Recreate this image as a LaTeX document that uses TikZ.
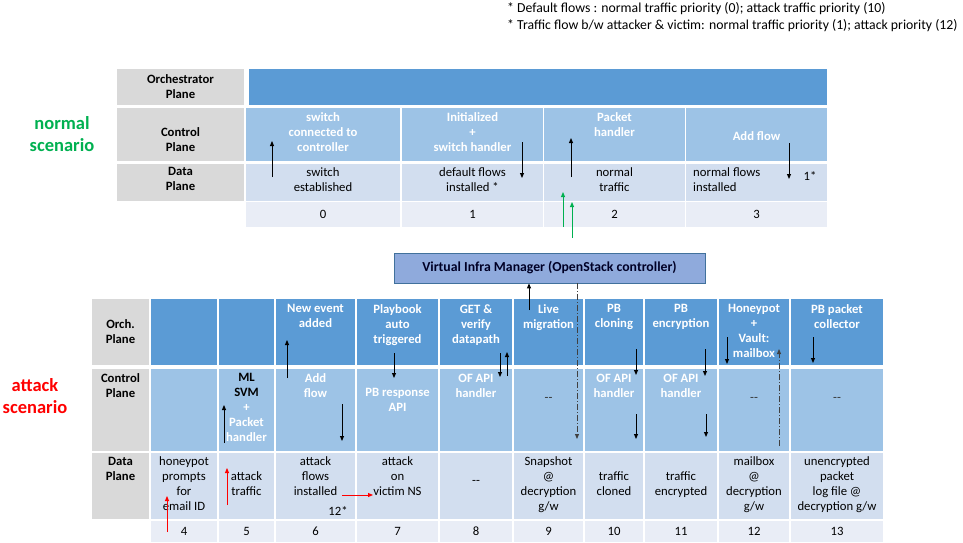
\documentclass[tikz,border=0pt]{standalone}
\usepackage{fontspec}
\setmainfont{Carlito}
\usetikzlibrary{positioning}
\usetikzlibrary{arrows.meta}

\definecolor{orchblue}{HTML}{5B9BD5}
\definecolor{ctrlblue}{HTML}{9DC3E6}
\definecolor{datablue}{HTML}{D2DEEF}
\definecolor{numblue}{HTML}{E9EDF6}
\definecolor{labelgray}{HTML}{D9D9D9}
\definecolor{vimblue}{HTML}{8FAADC}
\definecolor{vimedge}{HTML}{41719C}
\definecolor{okgreen}{HTML}{00B050}

\tikzset{
  cell/.style={inner sep=0pt, outer sep=0pt, anchor=north west},
  txt/.style={font=\fontsize{12.7}{15}\selectfont, align=center, inner sep=0pt,
    execute at begin node={\rule{0pt}{12.5pt}}},
  hd/.style={txt, font=\bfseries\fontsize{12.7}{15}\selectfont, text=white},
  lbl/.style={txt, font=\bfseries\fontsize{12.7}{15}\selectfont},
  dashtxt/.style={txt, text=black!80},
  scen/.style={font=\bfseries\fontsize{18.5}{22.5}\selectfont, align=center},
  arr/.style={-{Triangle[length=5pt,width=4pt]}, line width=0.9pt},
  redarr/.style={arr, red},
  greenarr/.style={arr, okgreen},
  dasharr/.style={arr, black!75, dash pattern=on 6pt off 2pt on 1pt off 2pt}
}

\begin{document}
\begin{tikzpicture}[x=1pt,y=-1pt]
    \useasboundingbox (0,0) rectangle (963,543);

    % Notes
    \node[txt, font=\fontsize{13.75}{17}\selectfont, align=left, anchor=north west] (notes) at (507,2.5)
      {* Default flows : normal traffic priority (0); attack traffic priority (10)\\
       * Traffic flow b/w attacker \& victim: normal traffic priority (1); attack priority (12)};

    % Normal scenario: plane labels
    \node[cell, fill=labelgray, minimum width=127pt, minimum height=36pt] (torch) at (117,69) {};
    \node[cell, fill=labelgray, minimum width=127pt, minimum height=53pt] (tctrl) at (117,108) {};
    \node[cell, fill=labelgray, minimum width=127pt, minimum height=37pt] (tdata) at (117,164) {};
    \node[cell, fill=orchblue, minimum width=578pt, minimum height=36pt] (tobar) at (249,69) {};
    \node[lbl, below=5.5pt of torch.north] (torchtxt) {Orchestrator\\Plane};
    \node[lbl, below=19.5pt of tctrl.north] (tctrltxt) {Control\\Plane};
    \node[lbl, below=3.5pt of tdata.north] (tdatatxt) {Data\\Plane};

    % Normal scenario: steps 0-3
    \foreach \n/\a/\b in {0/246/400,1/402/543,2/544/685,3/686/827} {
        \node[cell, fill=ctrlblue, minimum width={(\b-\a)*1pt}, minimum height=53pt] (tc\n) at (\a,108) {};
        \node[cell, fill=datablue, minimum width={(\b-\a)*1pt}, minimum height=37pt] (td\n) at (\a,164) {};
        \node[cell, fill=numblue, minimum width={(\b-\a)*1pt}, minimum height=25pt] (tn\n) at (\a,202) {};
        \node[txt, below=3.5pt of tn\n.north] (tnum\n) {\n};
    }
    \node[hd, below=4.5pt of tc0.north] (tc0txt) {switch\\connected to\\controller};
    \node[hd, below=4.5pt of tc1.north] (tc1txt) {Initialized\\+\\switch handler};
    \node[hd, below=4.5pt of tc2.north] (tc2txt) {Packet\\handler};
    \node[hd, below=19.5pt of tc3.north] (tc3txt) {Add flow};
    \node[txt, below=3.5pt of td0.north] (td0txt) {switch\\established};
    \node[txt, below=3.5pt of td1.north] (td1txt) {default flows\\installed *};
    \node[txt, below=3.5pt of td2.north] (td2txt) {normal\\traffic};
    \node[txt, align=left, below right=3.5pt and 7pt of td3.north west] (td3txt) {normal flows\\installed};
    \node[txt, anchor=north] (onestar) at (810,167.5) {1*};

    \node[scen, text=okgreen] (normalsc) at (62,134) {normal\\scenario};

    % Normal scenario arrows
    \draw[arr] (272,177) -- (272,141);
    \draw[arr] (522,142) -- (522,178);
    \draw[arr] (571,177) -- (571,138);
    \draw[arr] (789,143) -- (789,179);
    \draw[greenarr] (563,227) -- (563,192);
    \draw[greenarr] (572,238) -- (572,202);

    % Virtual infra manager
    \node[draw=vimedge, fill=vimblue, line width=0.8pt, minimum width=311pt, minimum height=30pt,
      font=\bfseries\fontsize{13.75}{16}\selectfont, text=black!85!blue] (vim) at (549.5,268)
      {Virtual Infra Manager (OpenStack controller)};

    % Attack scenario: plane labels
    \node[cell, fill=labelgray, minimum width=57pt, minimum height=66pt] (borch) at (92,299) {};
    \node[cell, fill=labelgray, minimum width=57pt, minimum height=82pt] (bctrl) at (92,369) {};
    \node[cell, fill=labelgray, minimum width=57pt, minimum height=66pt] (bdata) at (92,453) {};
    \node[lbl, below=20.5pt of borch.north] (borchtxt) {Orch.\\Plane};
    \node[lbl, below=4.5pt of bctrl.north] (bctrltxt) {Control\\Plane};
    \node[lbl, below=4.5pt of bdata.north] (bdatatxt) {Data\\Plane};

    % Attack scenario: steps 4-13
    \foreach \n/\a/\b in {4/151/217,5/219/274,6/276/355,7/357/438,8/440/512,9/514/583,10/585/643,11/645/717,12/719/789,13/791/883} {
        \node[cell, fill=orchblue, minimum width={(\b-\a)*1pt}, minimum height=66pt] (bo\n) at (\a,299) {};
        \node[cell, fill=ctrlblue, minimum width={(\b-\a)*1pt}, minimum height=82pt] (bc\n) at (\a,369) {};
        \node[cell, fill=datablue, minimum width={(\b-\a)*1pt}, minimum height=66pt] (bd\n) at (\a,453) {};
        \node[cell, fill=numblue, minimum width={(\b-\a)*1pt}, minimum height=21pt] (bn\n) at (\a,521) {};
        \node[txt, below=1.5pt of bn\n.north] (bnum\n) {\n};
    }

    % Orchestrator row
    \node[hd, below=5.5pt of bo6.north] (bo6txt) {New event\\added};
    \node[hd, below=5.5pt of bo7.north] (bo7txt) {Playbook\\auto\\triggered};
    \node[hd, below=5.5pt of bo8.north] (bo8txt) {GET \&\\verify\\datapath};
    \node[hd, below=5.5pt of bo9.north] (bo9txt) {Live\\migration};
    \node[hd, below=5.5pt of bo10.north] (bo10txt) {PB\\cloning};
    \node[hd, below=5.5pt of bo11.north] (bo11txt) {PB\\encryption};
    \node[hd, below=5.5pt of bo12.north] (bo12txt) {Honeypot\\+\\Vault:\\mailbox};
    \node[hd, below=5.5pt of bo13.north] (bo13txt) {PB packet\\collector};

    % Control row
    \node[hd, below=4.5pt of bc5.north] (bc5txt) {\textcolor{black}{ML}\\\textcolor{black}{SVM}\\+\\Packet\\handler};
    \node[hd, below=4.5pt of bc6.north] (bc6txt) {Add\\flow};
    \node[hd, below=19.5pt of bc7.north] (bc7txt) {PB response\\API};
    \node[hd, below=4.5pt of bc8.north] (bc8txt) {OF API\\handler};
    \node[dashtxt, below=19.5pt of bc9.north] (bc9txt) {-{}-};
    \node[hd, below=4.5pt of bc10.north] (bc10txt) {OF API\\handler};
    \node[hd, below=4.5pt of bc11.north] (bc11txt) {OF API\\handler};
    \node[dashtxt, below=19.5pt of bc12.north] (bc12txt) {-{}-};
    \node[dashtxt, below=19.5pt of bc13.north] (bc13txt) {-{}-};

    % Data row
    \node[txt, below=3.5pt of bd4.north] (bd4txt) {honeypot\\prompts\\for\\email ID};
    \node[txt, below=18.5pt of bd5.north] (bd5txt) {attack\\traffic};
    \node[txt, below=3.5pt of bd6.north] (bd6txt) {attack\\flows\\installed};
    \node[txt, anchor=north] (twelvestar) at (338,502.5) {12*};
    \node[txt, below=3.5pt of bd7.north] (bd7txt) {attack\\on\\victim NS};
    \node[txt, below=18.5pt of bd8.north] (bd8txt) {-{}-};
    \node[txt, below=3.5pt of bd9.north] (bd9txt) {Snapshot\\@\\decryption\\g/w};
    \node[txt, below=18.5pt of bd10.north] (bd10txt) {traffic\\cloned};
    \node[txt, below=18.5pt of bd11.north] (bd11txt) {traffic\\encrypted};
    \node[txt, below=3.5pt of bd12.north] (bd12txt) {mailbox\\@\\decryption\\g/w};
    \node[txt, below=3.5pt of bd13.north] (bd13txt) {unencrypted\\packet\\log file @\\decryption g/w};

    \node[scen, text=red] (attacksc) at (35,396) {attack\\scenario};

    % Attack scenario arrows
    \draw[redarr] (167,532) -- (167,496);
    \draw[redarr] (227,505) -- (227,468);
    \draw[redarr] (342,495) -- (373,495);
    \draw[arr] (224,443) -- (224,405);
    \draw[arr] (287,378) -- (287,340);
    \draw[arr] (342,404) -- (342,441);
    \draw[arr] (394,353) -- (394,378);
    \draw[arr] (500,353) -- (500,377);
    \draw[arr] (507,376) -- (507,352);
    \draw[arr] (529,310) -- (529,310 |- vim.south);
    \draw[dasharr] (577,0 |- vim.south) -- (577,439);
    \draw[arr] (636,349) -- (636,375);
    \draw[arr] (636,414) -- (636,439);
    \draw[arr] (705,349) -- (705,376);
    \draw[arr] (706,414) -- (706,437);
    \draw[arr] (727,337) -- (727,364);
    \draw[dasharr] (779,446) -- (779,349);
    \draw[arr] (813,337) -- (813,363);
\end{tikzpicture}
\end{document}
